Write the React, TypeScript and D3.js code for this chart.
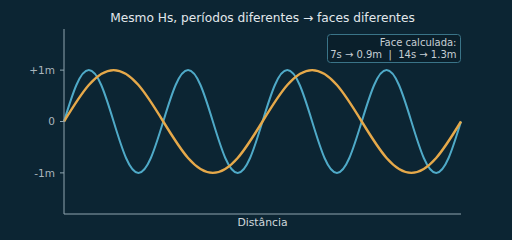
import * as d3 from "d3";

// distance units: 0..4, blue = 7s wave (4 cycles), orange = 14s wave (2 cycles)
const shortX = [
  0, 0.125, 0.25, 0.375, 0.5, 0.625, 0.75, 0.875, 1, 1.125, 1.25, 1.375, 1.5, 1.625, 1.75, 1.875, 2,
  2.125, 2.25, 2.375, 2.5, 2.625, 2.75, 2.875, 3, 3.125, 3.25, 3.375, 3.5, 3.625, 3.75, 3.875, 4,
];
const shortY = [
  0, 0.71, 1, 0.71, 0, -0.71, -1, -0.71, 0, 0.71, 1, 0.71, 0, -0.71, -1, -0.71, 0,
  0.71, 1, 0.71, 0, -0.71, -1, -0.71, 0, 0.71, 1, 0.71, 0, -0.71, -1, -0.71, 0,
];
const longX = [0, 0.25, 0.5, 0.75, 1, 1.25, 1.5, 1.75, 2, 2.25, 2.5, 2.75, 3, 3.25, 3.5, 3.75, 4];
const longY = [0, 0.71, 1, 0.71, 0, -0.71, -1, -0.71, 0, 0.71, 1, 0.71, 0, -0.71, -1, -0.71, 0];

const yTicks = [-1, 0, 1];
const yTickLabels = ["-1m", "0", "+1m"];
const title = "Mesmo Hs, períodos diferentes → faces diferentes";
const legendLines = ["Face calculada:", "7s → 0.9m  |  14s → 1.3m"];

export default function App() {
  const W = 512;
  const H = 240;
  const margin = { top: 29, right: 51, bottom: 26, left: 64 };
  const x = d3.scaleLinear().domain([0, 4]).range([margin.left, W - margin.right]);
  const y = d3.scaleLinear().domain([-1.8, 1.8]).range([H - margin.bottom, margin.top]);

  const line = d3
    .line<[number, number]>()
    .x((d) => x(d[0]))
    .y((d) => y(d[1]))
    .curve(d3.curveNatural);

  const shortPts = shortX.map((v, i) => [v, shortY[i]] as [number, number]);
  const longPts = longX.map((v, i) => [v, longY[i]] as [number, number]);
  const font = "DejaVu Sans, sans-serif";
  const axisColor = "#8fa5b0";

  return (
    <svg
      width={W}
      height={H}
      style={{ position: "absolute", left: 0, top: 0, background: "#0c2533" }}
      fontFamily={font}
    >
      <rect width={W} height={H} fill="#0c2533" />
      <text x={(x(0) + x(4)) / 2} y={22} textAnchor="middle" fontSize={12.2} fill="#e2e8ec">
        {title}
      </text>

      <path d={line(shortPts) ?? ""} fill="none" stroke="#4faac8" strokeWidth={2} />
      <path d={line(longPts) ?? ""} fill="none" stroke="#e6a94a" strokeWidth={2.4} />

      <line x1={x(0)} x2={x(0)} y1={y(1.8)} y2={y(-1.8)} stroke={axisColor} />
      <line x1={x(0)} x2={x(4)} y1={y(-1.8)} y2={y(-1.8)} stroke={axisColor} />
      {yTicks.map((t, i) => (
        <g key={t}>
          <line x1={x(0) - 4} x2={x(0)} y1={y(t)} y2={y(t)} stroke={axisColor} />
          <text
            x={x(0) - 9}
            y={y(t)}
            dy="0.35em"
            textAnchor="end"
            fontSize={10.5}
            fill="#aab6bd"
          >
            {yTickLabels[i]}
          </text>
        </g>
      ))}
      <text x={(x(0) + x(4)) / 2} y={226} textAnchor="middle" fontSize={10.8} fill="#d0d8dc">
        Distância
      </text>

      <rect
        x={327.5}
        y={34.5}
        width={133}
        height={28}
        rx={3}
        fill="#0a1f2b"
        stroke="#3a7488"
      />
      {legendLines.map((s, i) => (
        <text
          key={i}
          x={456.5}
          y={45.5 + i * 12}
          textAnchor="end"
          fontSize={10}
          fill="#c6ced4"
          style={{ whiteSpace: "pre" }}
        >
          {s}
        </text>
      ))}
    </svg>
  );
}
